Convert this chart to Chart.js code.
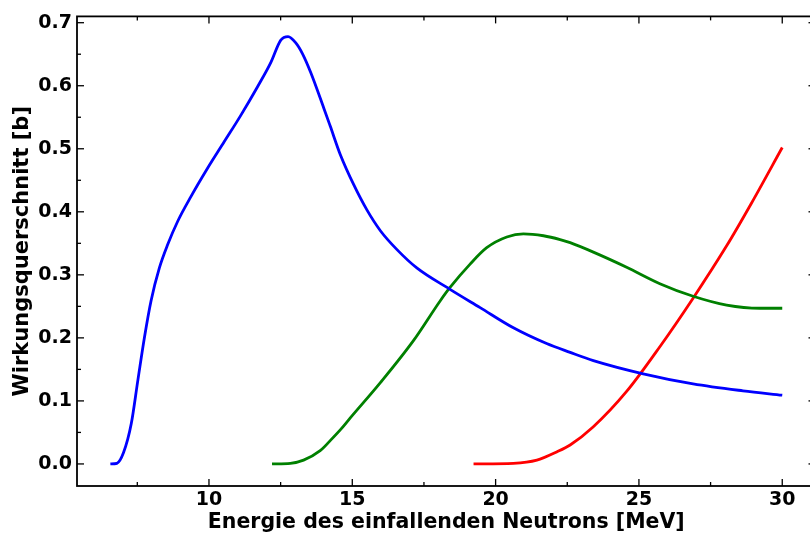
<!DOCTYPE html>
<html>
<head>
<meta charset="utf-8">
<script src="https://cdn.jsdelivr.net/npm/chart.js@4.4.0/dist/chart.umd.min.js"></script>
<style>
  html, body { margin: 0; padding: 0; background: #fff; overflow: hidden; }
  #wrap { width: 830px; height: 533px; }
</style>
</head>
<body>
<div id="wrap"><canvas id="chart"></canvas></div>
<script>
// Wirkungsquerschnitte in Barn ueber der Neutronenenergie in MeV
const blueE = [6.56, 6.79, 7.02, 7.29, 7.52, 7.75, 7.98, 8.27, 8.56, 8.91, 9.37, 9.95, 10.53, 11.11, 11.69, 12.16, 12.50, 12.76, 13.03, 13.26, 13.55, 14.01, 14.23, 14.58, 15.05, 15.51, 15.98, 16.56, 17.25, 18.41, 19.46, 20.62, 21.78, 22.60, 23.41, 25.15, 26.89, 28.63, 30.0]
const blueS = [0, 0.001, 0.018, 0.064, 0.133, 0.201, 0.259, 0.311, 0.348, 0.385, 0.424, 0.469, 0.511, 0.553, 0.598, 0.637, 0.672, 0.678, 0.668, 0.651, 0.621, 0.564, 0.536, 0.491, 0.443, 0.403, 0.370, 0.340, 0.311, 0.277, 0.248, 0.216, 0.191, 0.177, 0.164, 0.143, 0.127, 0.116, 0.109]

const greenE = [12.20, 12.84, 13.30, 13.88, 14.23, 14.58, 14.93, 15.98, 17.14, 18.07, 18.41, 19.11, 19.69, 20.39, 20.97, 21.67, 22.25, 22.60, 23.41, 24.57, 25.73, 26.89, 28.06, 29.22, 30.0]
const greenS = [0, 0.001, 0.006, 0.021, 0.037, 0.054, 0.073, 0.129, 0.196, 0.259, 0.280, 0.317, 0.343, 0.360, 0.365, 0.362, 0.356, 0.351, 0.336, 0.312, 0.286, 0.266, 0.252, 0.247, 0.247]

const redE = [19.23, 20.62, 21.44, 22.13, 22.60, 23.41, 24.57, 25.73, 26.89, 28.06, 28.93, 30.0]
const redS = [0, 0.001, 0.006, 0.019, 0.030, 0.059, 0.115, 0.186, 0.263, 0.346, 0.414, 0.502]

const xMajor = [10, 15, 20, 25, 30]
const xMinor = [7.5, 12.5, 17.5, 22.5, 27.5]
const yMajor = [0, 0.1, 0.2, 0.3, 0.4, 0.5, 0.6, 0.7]
const yMinor = [0.05, 0.15, 0.25, 0.35, 0.45, 0.55, 0.65]

const font = 'DejaVu Sans'

function toPoints(xs, ys) {
    return xs.map((e, i) => ({ x: e, y: ys[i] }))
}

// Rahmen und nach innen zeigende Ticks auf allen vier Seiten
const frameTicks = {
    id: 'frameTicks',
    afterDatasetsDraw(chart) {
        const { ctx, chartArea: a, scales: { x, y } } = chart
        ctx.save()
        ctx.strokeStyle = '#000'
        ctx.lineWidth = 1.3
        const line = (x1, y1, x2, y2) => {
            ctx.beginPath()
            ctx.moveTo(x1, y1)
            ctx.lineTo(x2, y2)
            ctx.stroke()
        }
        const xt = (vals, len) => vals.forEach(v => {
            const px = x.getPixelForValue(v)
            line(px, a.bottom, px, a.bottom - len)
            line(px, a.top, px, a.top + len)
        })
        const yt = (vals, len) => vals.forEach(v => {
            const py = y.getPixelForValue(v)
            line(a.left, py, a.left + len, py)
            line(a.right, py, a.right - len, py)
        })
        xt(xMajor, 7); xt(xMinor, 4)
        yt(yMajor, 7); yt(yMinor, 4)
        ctx.lineWidth = 1.8
        ctx.strokeRect(a.left, a.top, a.right - a.left, a.bottom - a.top)
        ctx.restore()
    }
}

const ctx = document.getElementById('chart').getContext('2d')
const chart = new Chart(ctx, {
    type: 'line',
    data: {
        datasets: [
            { data: toPoints(blueE, blueS), borderColor: '#0000ff' },
            { data: toPoints(greenE, greenS), borderColor: '#008000' },
            { data: toPoints(redE, redS), borderColor: '#ff0000' }
        ]
    },
    options: {
        responsive: true,
        maintainAspectRatio: false,
        animation: false,
        layout: { padding: { top: 14, right: 14.5, left: 0, bottom: 0 } },
        elements: {
            point: { radius: 0 },
            line: { borderWidth: 2.8, cubicInterpolationMode: 'monotone', fill: false }
        },
        plugins: {
            legend: { display: false },
            tooltip: { enabled: false }
        },
        scales: {
            x: {
                type: 'linear',
                min: 5.396,
                max: 31.16,
                grid: { display: false, drawTicks: false },
                border: { display: false },
                afterBuildTicks: s => { s.ticks = xMajor.map(v => ({ value: v })) },
                afterFit: s => { s.height = 47 },
                ticks: {
                    color: '#000',
                    padding: 3,
                    maxRotation: 0,
                    font: { family: font, size: 19, weight: 'bold' },
                    callback: v => String(v)
                },
                title: {
                    display: true,
                    text: 'Energie des einfallenden Neutrons [MeV]',
                    color: '#000',
                    padding: { top: 0, bottom: -2 },
                    font: { family: font, size: 20.5, weight: 'bold' }
                }
            },
            y: {
                type: 'linear',
                min: -0.035,
                max: 0.71,
                grid: { display: false, drawTicks: false },
                border: { display: false },
                afterBuildTicks: s => { s.ticks = yMajor.map(v => ({ value: v })) },
                afterFit: s => { s.width = 77 },
                ticks: {
                    color: '#000',
                    padding: 5,
                    font: { family: font, size: 19, weight: 'bold' },
                    callback: v => v.toFixed(1)
                },
                title: {
                    display: true,
                    text: 'Wirkungsquerschnitt [b]',
                    color: '#000',
                    padding: { top: 10, bottom: 0 },
                    font: { family: font, size: 21, weight: 'bold' }
                }
            }
        }
    },
    plugins: [frameTicks]
})
</script>
</body>
</html>
